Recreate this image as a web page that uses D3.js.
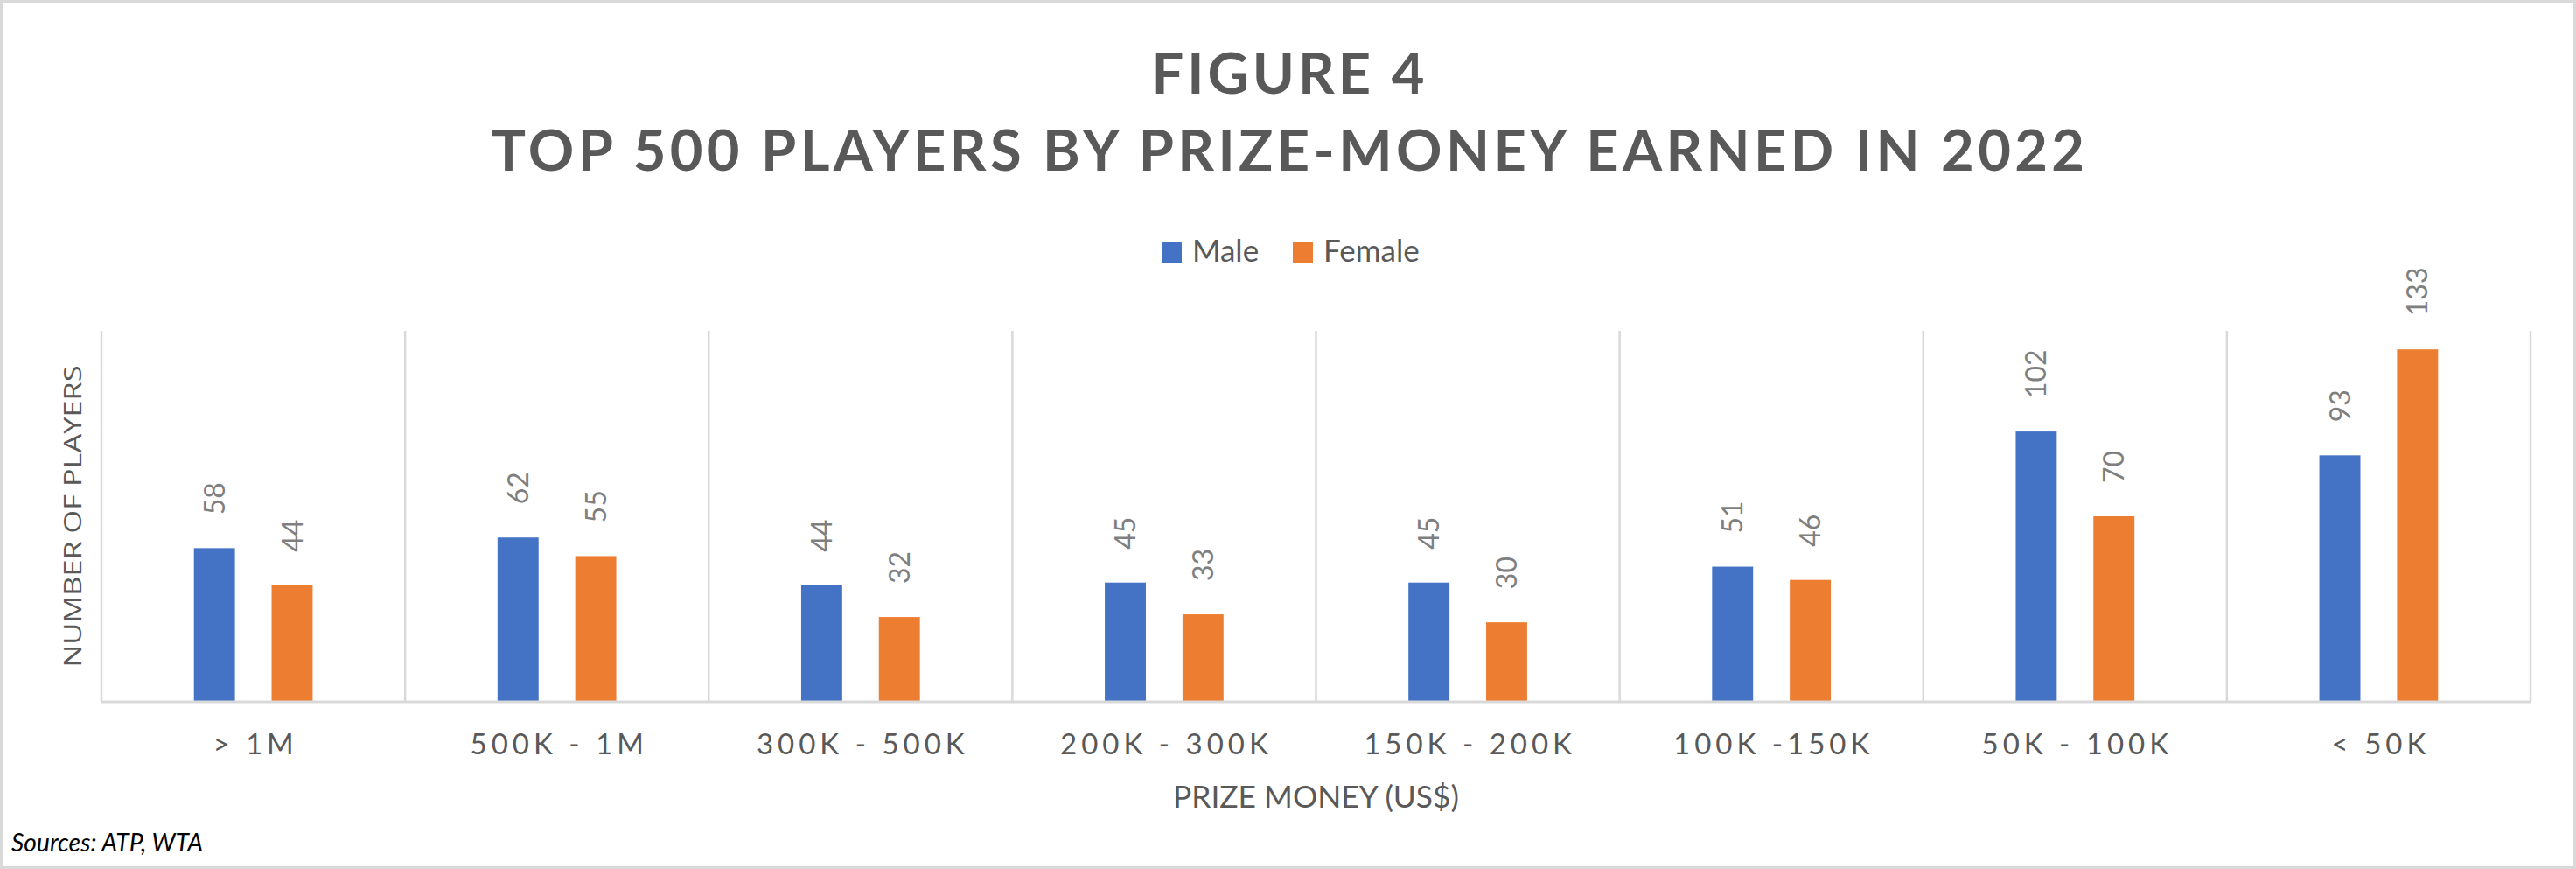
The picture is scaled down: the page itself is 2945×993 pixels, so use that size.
<!DOCTYPE html>
<html>
<head>
<meta charset="utf-8">
<script src="https://cdn.jsdelivr.net/npm/d3@7"></script>
<style>
  html, body { margin: 0; padding: 0; background: #ffffff; }
  svg { display: block; }
</style>
</head>
<body>
<script>
// ---- Data ----
const categories = ["> 1M", "500K - 1M", "300K - 500K", "200K - 300K", "150K - 200K", "100K -150K", "50K - 100K", "< 50K"];
const seriesNames = ["Male", "Female"];
const maleValues = [58, 62, 44, 45, 45, 51, 102, 93];
const femaleValues = [44, 55, 32, 33, 30, 46, 70, 133];
const titleLines = ["FIGURE 4", "TOP 500 PLAYERS BY PRIZE-MONEY EARNED IN 2022"];
const xAxisTitle = "PRIZE MONEY (US$)";
const yAxisTitle = "NUMBER OF PLAYERS";
const sourceNote = "Sources: ATP, WTA";
const yMax = 140;

const colors = { Male: "#4472C4", Female: "#ED7D31" };

const W = 2945, H = 993;
const plot = { left: 116, right: 2893, top: 378, bottom: 802 };

const svg = d3.select("body").append("svg").attr("width", W).attr("height", H);

svg.append("rect").attr("x", 1.5).attr("y", 1.5).attr("width", W - 3).attr("height", H - 3)
  .attr("fill", "#ffffff").attr("stroke", "#d9d9d9").attr("stroke-width", 3);

// Scales
const x = d3.scaleBand().domain(categories).range([plot.left, plot.right]).padding(0);
const xInner = d3.scaleBand().domain(seriesNames).range([0, x.bandwidth()])
  .paddingInner(0.472).paddingOuter(1.19);
const y = d3.scaleLinear().domain([0, yMax]).range([plot.bottom, plot.top]);

// Vertical category gridlines
const bounds = categories.map(c => x(c)).concat([plot.right]);
svg.append("g").selectAll("line").data(bounds).join("line")
  .attr("x1", d => d).attr("x2", d => d)
  .attr("y1", plot.top).attr("y2", plot.bottom)
  .attr("stroke", "#d9d9d9").attr("stroke-width", 2.5);

// Bars
const rows = categories.map((c, i) => ({ cat: c, Male: maleValues[i], Female: femaleValues[i] }));
const groups = svg.append("g").selectAll("g").data(rows).join("g")
  .attr("transform", d => `translate(${x(d.cat)},0)`);

groups.selectAll("rect").data(d => seriesNames.map(s => ({ s, v: d[s] }))).join("rect")
  .attr("x", d => xInner(d.s))
  .attr("width", xInner.bandwidth())
  .attr("y", d => y(d.v))
  .attr("height", d => y(0) - y(d.v))
  .attr("fill", d => colors[d.s]);

// Data labels (rotated)
groups.selectAll("text").data(d => seriesNames.map(s => ({ s, v: d[s] }))).join("text")
  .attr("transform", d => `translate(${xInner(d.s) + xInner.bandwidth() / 2},${y(d.v) - 38}) rotate(-90)`)
  .attr("dy", "0.36em")
  .attr("text-anchor", "start")
  .attr("font-family", "Lato, 'Open Sans', sans-serif")
  .attr("font-size", 32)
  .attr("fill", "#7f7f7f")
  .text(d => d.v);

// Baseline
svg.append("line").attr("x1", plot.left).attr("x2", plot.right)
  .attr("y1", plot.bottom).attr("y2", plot.bottom)
  .attr("stroke", "#d9d9d9").attr("stroke-width", 3);

// X axis labels
const xAxis = svg.append("g").attr("transform", `translate(0,${plot.bottom})`)
  .call(d3.axisBottom(x).tickSize(0).tickPadding(0));
xAxis.select(".domain").remove();
xAxis.selectAll("text")
  .attr("y", 60).attr("dy", 0).attr("dx", 2.5)
  .attr("font-family", "Lato, 'Open Sans', sans-serif")
  .attr("font-size", 33)
  .attr("letter-spacing", "5px")
  .attr("fill", "#595959");

// Title
svg.append("g").selectAll("text").data(titleLines).join("text")
  .attr("x", W / 2)
  .attr("y", (d, i) => i === 0 ? 107 : 195)
  .attr("text-anchor", "middle")
  .attr("font-family", "Lato, 'Open Sans', sans-serif")
  .attr("font-weight", "bold")
  .attr("font-size", 65)
  .attr("fill", "#595959")
  .attr("textLength", (d, i) => i === 0 ? 312 : 1821)
  .attr("lengthAdjust", "spacing")
  .text(d => d);

// Legend
const legendX = [1328, 1478];
const legend = svg.append("g").selectAll("g").data(seriesNames).join("g")
  .attr("transform", (d, i) => `translate(${legendX[i]},277)`);
legend.append("rect").attr("width", 23).attr("height", 23).attr("fill", d => colors[d]);
legend.append("text").attr("x", 35).attr("y", 22)
  .attr("font-family", "Lato, 'Open Sans', sans-serif")
  .attr("font-size", 35)
  .attr("fill", "#595959")
  .text(d => d);

// Axis titles
svg.append("text")
  .attr("x", (plot.left + plot.right) / 2).attr("y", 923)
  .attr("text-anchor", "middle")
  .attr("font-family", "Lato, 'Open Sans', sans-serif")
  .attr("font-size", 35)
  .attr("fill", "#595959")
  .attr("textLength", 327).attr("lengthAdjust", "spacingAndGlyphs")
  .text(xAxisTitle);

svg.append("text")
  .attr("transform", `translate(93,${(plot.top + plot.bottom) / 2}) rotate(-90)`)
  .attr("text-anchor", "middle")
  .attr("font-family", "'Open Sans', sans-serif")
  .attr("font-size", 28)
  .attr("fill", "#595959")
  .attr("textLength", 345).attr("lengthAdjust", "spacingAndGlyphs")
  .text(yAxisTitle);

// Source note
svg.append("text")
  .attr("x", 13).attr("y", 973)
  .attr("font-family", "Lato, 'Open Sans', sans-serif")
  .attr("font-style", "italic")
  .attr("font-size", 29)
  .attr("fill", "#000000")
  .attr("textLength", 219).attr("lengthAdjust", "spacingAndGlyphs")
  .text(sourceNote);
</script>
</body>
</html>
